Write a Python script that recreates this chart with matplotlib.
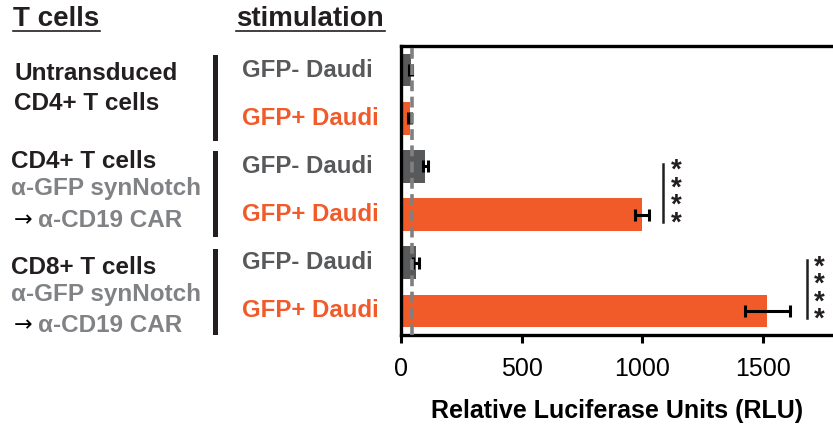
import matplotlib.pyplot as plt
from matplotlib.lines import Line2D
from matplotlib.transforms import blended_transform_factory

# data, top to bottom
stimulation = ['GFP- Daudi', 'GFP+ Daudi', 'GFP- Daudi', 'GFP+ Daudi', 'GFP- Daudi', 'GFP+ Daudi']
rlu = [40, 36, 100, 1000, 63, 1520]
rlu_err = [6, 5, 10, 30, 12, 92]
baseline = 45
sig_pairs = [(2, 3), (4, 5)]
sig_text = '*\n*\n*\n*'

GRAY = '#58595b'
ORANGE = '#f15a29'
DARK = '#231f20'
LIGHT = '#808285'
W, H = 833, 425

plt.rcParams['font.family'] = ['Liberation Sans', 'DejaVu Sans']


def fx(px):
    return px / W


def fy(py):
    return 1 - py / H


fig = plt.figure(figsize=(W / 100, H / 100), dpi=100)
ax = fig.add_axes([fx(401), fy(335), 1 - fx(401), fy(46) - fy(335)])

colors = [GRAY if s.startswith('GFP-') else ORANGE for s in stimulation]
ypos = list(range(len(rlu)))
ax.barh(ypos, rlu, height=0.68, color=colors, zorder=2)
ax.errorbar(rlu, ypos, xerr=rlu_err, fmt='none', ecolor='black',
            elinewidth=2.2, capsize=4, capthick=2.2, zorder=3)
ax.axvline(baseline, color='#808080', linestyle=(0, (3, 1.5)), linewidth=2.6, zorder=4)

ax.set_xlim(0, 1792)
ax.set_ylim(5.5, -0.5)
ax.set_yticks([])
ax.set_xticks([0, 500, 1000, 1500])
ax.tick_params(axis='x', labelsize=18, width=2.2, length=6, direction='out', pad=10)
for s in ['left', 'top', 'bottom']:
    ax.spines[s].set_linewidth(2.4)
ax.spines['right'].set_visible(False)
ax.set_xlabel('Relative Luciferase Units (RLU)', fontsize=18, fontweight='bold', labelpad=13)

# significance marks
for (a, b), xb in zip(sig_pairs, [1088, 1683]):
    ax.plot([xb, xb], [a - 0.06, b + 0.15], color=DARK, linewidth=1.8, clip_on=False)
    ax.text(xb + 52, (a + b) / 2 + 0.14, sig_text, ha='center', va='center',
            fontsize=20, fontweight='bold', linespacing=0.58, color=DARK)

# stimulation labels
tr = blended_transform_factory(fig.transFigure, ax.transData)
for i, s in enumerate(stimulation):
    ax.text(fx(242), i, s, transform=tr, ha='left', va='center', fontsize=17.3,
            fontweight='bold', color=colors[i])

# headers
fig.text(fx(13), fy(19), 'T cells', fontsize=20, fontweight='bold', color=DARK, va='center')
fig.text(fx(236), fy(19), 'stimulation', fontsize=20, fontweight='bold', color=DARK, va='center')
for x0, x1 in [(13, 100), (236, 385)]:
    fig.add_artist(Line2D([fx(x0), fx(x1)], [fy(31), fy(31)], color=DARK, linewidth=1.2))

# T cell group labels
fig.text(fx(14), fy(74), 'Untransduced', fontsize=17.5, fontweight='bold', color=DARK, va='center')
fig.text(fx(14), fy(104), 'CD4+ T cells', fontsize=17.5, fontweight='bold', color=DARK, va='center')
for y0, first in [(162, 'CD4+ T cells'), (267, 'CD8+ T cells')]:
    fig.text(fx(11), fy(y0), first, fontsize=17.5, fontweight='bold', color=DARK, va='center')
    fig.text(fx(11), fy(y0 + 27), '\u03b1-GFP synNotch', fontsize=17.5, fontweight='bold',
             color=LIGHT, va='center')
    fig.text(fx(14), fy(y0 + 58), '\u2192', fontsize=16, color='black', va='center',
             family='DejaVu Sans')
    fig.text(fx(38), fy(y0 + 58), '\u03b1-CD19 CAR', fontsize=17.5, fontweight='bold',
             color=LIGHT, va='center')

# group separators
for y0, y1 in [(57, 138), (153, 234), (251, 332)]:
    fig.add_artist(Line2D([fx(215), fx(215)], [fy(y0), fy(y1)], color=DARK, linewidth=3.6))

fig.savefig('out.png', dpi=100)
